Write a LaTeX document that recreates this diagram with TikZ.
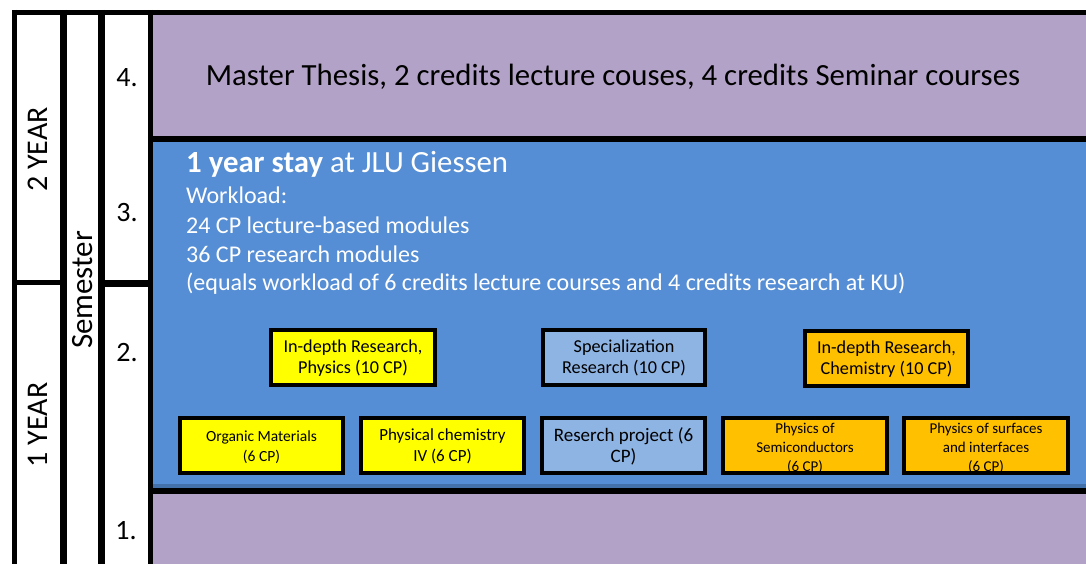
\documentclass[tikz,border=0pt]{standalone}
\usepackage{fontspec}
\setmainfont{Carlito}
\definecolor{thesisPurple}{RGB}{179,162,199}
\definecolor{stayBlue}{RGB}{85,142,213}
\definecolor{physYellow}{RGB}{255,255,0}
\definecolor{chemOrange}{RGB}{255,192,0}
\definecolor{specBlue}{RGB}{142,180,227}
\newcommand{\fsz}[2]{\fontsize{#1}{#2}\selectfont}

\begin{document}
\begin{tikzpicture}[x=1pt,y=-1pt,
  course/.style={draw=black,line width=4},
  coursetext/.style={align=center,inner sep=0pt,text=black}]
\useasboundingbox (0,0) rectangle (1086,564);

% semester areas
\fill[thesisPurple] (153,15) rectangle (1086,136);
\fill[stayBlue] (153,142) rectangle (1086,488);
\fill[stayBlue!80!black] (153,484) rectangle (1086,488);
\fill[thesisPurple] (153,494) rectangle (1086,564);

% frame lines
\begin{scope}[line width=5]
\draw (12,12.5) -- (1086,12.5);
\draw (14.5,10) -- (14.5,564);
\draw (150.5,10) -- (150.5,564);
\draw (17,282.5) -- (60,282.5);
\end{scope}
\begin{scope}[line width=6.5]
\draw (63.5,10) -- (63.5,564);
\draw (101.5,10) -- (101.5,564);
\draw (105,283.5) -- (148,283.5);
\draw (148,139) -- (1086,139);
\draw (148,491) -- (1086,491);
\end{scope}

% years and semesters
\draw (38,149.5) node[rotate=90] (year2) {\fsz{30}{36}2 YEAR};
\draw (38,425) node[rotate=90] (year1) {\fsz{30}{36}1 YEAR};
\draw (83,290) node[rotate=90] (semester) {\fsz{31}{36}Semester};
\draw (127,78) node (sem4) {\fsz{28}{32}4.};
\draw (127,212.5) node (sem3) {\fsz{28}{32}3.};
\draw (127,353) node (sem2) {\fsz{28}{32}2.};
\draw (126,531) node (sem1) {\fsz{28}{32}1.};

% 4th semester
\draw (613,86) node[anchor=base] (thesis) {\fsz{30.8}{36}Master Thesis, 2 credits lecture couses, 4 credits Seminar courses};

% stay at Giessen
\begin{scope}[anchor=base west,text=white,inner sep=0pt]
\draw (186,173) node (stay) {\fsz{30.8}{36}\textbf{1 year stay} at JLU Giessen};
\draw (186,204) node (workload) {\fsz{24}{28}Workload:};
\draw (186,233) node (lecturecp) {\fsz{24}{28}24 CP lecture-based modules};
\draw (186,262) node (researchcp) {\fsz{24}{28}36 CP research modules};
\draw (186,290) node (equals) {\fsz{24}{28}(equals workload of 6 credits lecture courses and 4 credits research at KU)};
\end{scope}

% research modules
\draw[course,fill=physYellow] (271,330) rectangle (435,385);
\draw (353,358) node[coursetext,font=\fsz{18.2}{21}] (physres) {In-depth Research,\\Physics (10 CP)};
\draw[course,fill=specBlue] (543,330) rectangle (705,385);
\draw (624,358) node[coursetext,font=\fsz{18.2}{21}] (specres) {Specialization\\Research (10 CP)};
\draw[course,fill=chemOrange] (805,331) rectangle (968,386);
\draw (886.5,359) node[coursetext,font=\fsz{18.2}{21}] (chemres) {In-depth Research,\\Chemistry (10 CP)};

% lecture modules
\draw[course,fill=physYellow] (180,418) rectangle (343,473);
\draw (261.5,447) node[coursetext,font=\fsz{15.5}{20}] (organic) {Organic Materials\\(6 CP)};
\draw[course,fill=physYellow] (361,418) rectangle (524,473);
\draw (442.5,446) node[coursetext,font=\fsz{17}{21}] (physchem) {Physical chemistry\\IV (6 CP)};
\draw[course,fill=specBlue] (542,418) rectangle (705,473);
\draw (623.5,446) node[coursetext,font=\fsz{19}{21}] (project) {Reserch project (6\\CP)};
\draw[course,fill=chemOrange] (723,418) rectangle (887,473);
\draw (805,448) node[coursetext,font=\fsz{15}{19}] (semicond) {Physics of\\Semiconductors\\(6 CP)};
\draw[course,fill=chemOrange] (904,418) rectangle (1068,473);
\draw (986,448) node[coursetext,font=\fsz{15}{19}] (surfaces) {Physics of surfaces\\and interfaces\\(6 CP)};
\end{tikzpicture}
\end{document}
